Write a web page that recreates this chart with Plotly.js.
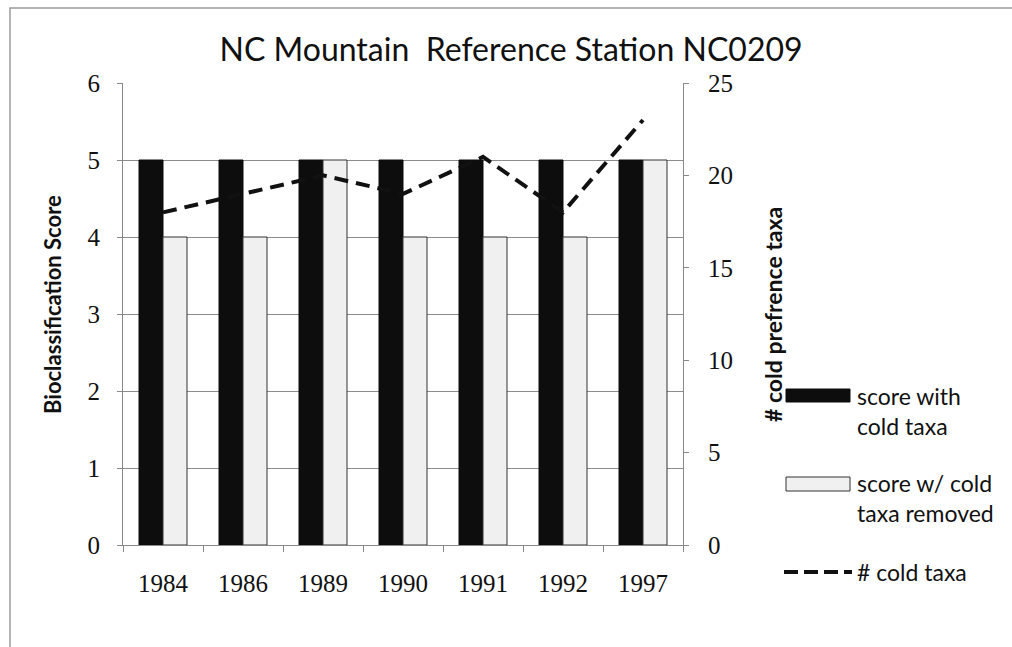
<!DOCTYPE html>
<html>
<head>
<meta charset="utf-8">
<script src="https://cdn.plot.ly/plotly-3.0.1.min.js"></script>
<style>html,body{margin:0;padding:0;background:#fff;}#chart{width:1012px;height:647px;}</style>
</head>
<body>
<div id="chart"></div>
<script>
var years = ["1984", "1986", "1989", "1990", "1991", "1992", "1997"];
var scoreWithCold = [5, 5, 5, 5, 5, 5, 5];
var scoreColdRemoved = [4, 4, 5, 4, 4, 4, 5];
var coldTaxa = [18, 19, 20, 19, 21, 18, 23];
var seriesNames = ["score with<br>cold taxa", "score w/ cold<br>taxa removed", "# cold taxa"];
var chartTitle = "NC Mountain  Reference Station NC0209";
var leftTitle = "Bioclassification Score";
var rightTitle = "# cold prefrence taxa";

var sansFont = "Lato, Carlito, 'Open Sans', sans-serif";
var serifFont = "'Liberation Serif', serif";

var traces = [
  {type: "bar", x: years, y: scoreWithCold, name: seriesNames[0],
   marker: {color: "#0d0d0d", line: {color: "#0d0d0d", width: 1}}, showlegend: false},
  {type: "bar", x: years, y: scoreColdRemoved, name: seriesNames[1],
   marker: {color: "#f0f0f0", line: {color: "#333333", width: 1}}, showlegend: false},
  {type: "scatter", mode: "lines", x: years, y: coldTaxa, yaxis: "y2", name: seriesNames[2],
   line: {color: "#111111", width: 4, dash: "14px,8px"}, showlegend: false}
];

var L = 123, R = 683, T = 83, B = 545, W = 1012, H = 647;
var pw = R - L, ph = B - T;
function px(x) { return (x - L) / pw; }
function py(y) { return (B - y) / ph; }

var shapes = [
  {type: "rect", xref: "paper", yref: "paper", x0: px(10), x1: px(1100), y0: py(760), y1: py(8),
   line: {color: "#9a9a9a", width: 1.5}, fillcolor: "rgba(0,0,0,0)", layer: "below"},
  {type: "rect", xref: "paper", yref: "paper", x0: px(786), x1: px(850), y0: py(402), y1: py(389),
   line: {color: "#0d0d0d", width: 1}, fillcolor: "#0d0d0d"},
  {type: "rect", xref: "paper", yref: "paper", x0: px(786), x1: px(850), y0: py(491), y1: py(477),
   line: {color: "#333333", width: 1}, fillcolor: "#f0f0f0"},
  {type: "line", xref: "paper", yref: "paper", x0: px(784), x1: px(852), y0: py(572), y1: py(572),
   line: {color: "#111111", width: 4, dash: "14px,6px"}}
];

var legFont = {family: sansFont, size: 23, color: "#111"};
var annotations = [
  {xref: "paper", yref: "paper", x: px(855), y: py(411), xanchor: "left", yanchor: "middle",
   text: seriesNames[0], showarrow: false, align: "left", font: legFont},
  {xref: "paper", yref: "paper", x: px(855), y: py(498), xanchor: "left", yanchor: "middle",
   text: seriesNames[1], showarrow: false, align: "left", font: legFont},
  {xref: "paper", yref: "paper", x: px(855), y: py(572), xanchor: "left", yanchor: "middle",
   text: seriesNames[2], showarrow: false, align: "left", font: legFont},
  {xref: "paper", yref: "paper", x: px(52), y: py(305), xanchor: "center", yanchor: "middle", textangle: -90,
   text: "<b>" + leftTitle + "</b>", showarrow: false, font: {family: sansFont, size: 22, color: "#111"}},
  {xref: "paper", yref: "paper", x: px(773), y: py(315), xanchor: "center", yanchor: "middle", textangle: -90,
   text: "<b>" + rightTitle + "</b>", showarrow: false, font: {family: sansFont, size: 23, color: "#111"}}
];

var tickFont = {family: serifFont, size: 25, color: "#111"};
var layout = {
  width: W, height: H,
  margin: {l: L, r: W - R, t: T, b: H - B, pad: 0},
  paper_bgcolor: "#ffffff", plot_bgcolor: "#ffffff",
  title: {text: chartTitle, x: 0.505, xanchor: "center", y: 1 - 50 / H, yanchor: "middle",
          font: {family: sansFont, size: 32, color: "#111"}},
  barmode: "group", bargap: 0.4, bargroupgap: 0,
  showlegend: false,
  xaxis: {type: "category", showline: true, linecolor: "#888", linewidth: 1, ticks: "outside", tickson: "boundaries",
          ticklen: 6, tickcolor: "#888", showgrid: false, zeroline: false, ticklabelstandoff: 16,
          tickfont: tickFont, automargin: false},
  yaxis: {range: [0, 6], dtick: 1, showline: true, linecolor: "#888", linewidth: 1, ticks: "outside", ticklen: 5,
          tickcolor: "#888", showgrid: true, gridcolor: "#8c8c8c", gridwidth: 1, zeroline: false,
          ticklabelstandoff: 12, tickfont: tickFont, automargin: false},
  yaxis2: {range: [0, 25], dtick: 5, overlaying: "y", side: "right", showline: true, linecolor: "#888", linewidth: 1,
           ticks: "outside", ticklen: 5, tickcolor: "#888", showgrid: false, zeroline: false,
           ticklabelstandoff: 14, tickfont: tickFont, automargin: false},
  shapes: shapes,
  annotations: annotations
};

Plotly.newPlot("chart", traces, layout, {displayModeBar: false, staticPlot: true});
</script>
</body>
</html>
